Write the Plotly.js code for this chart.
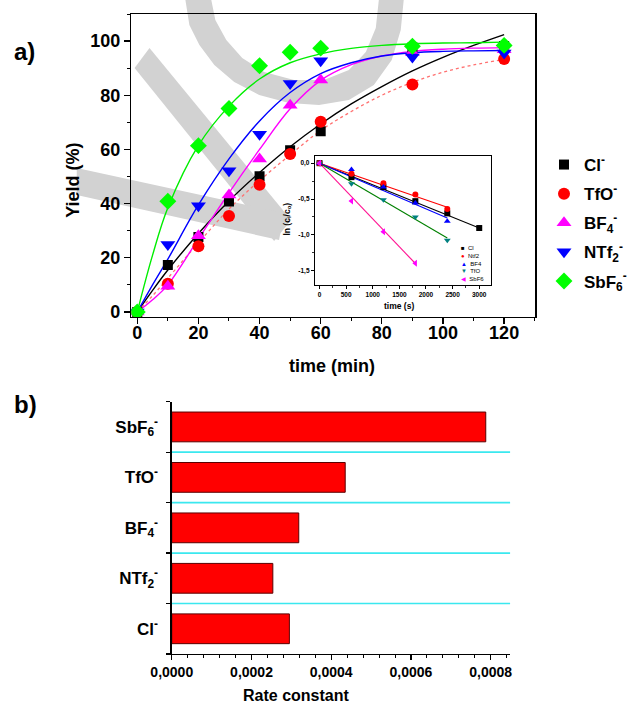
<!DOCTYPE html>
<html><head><meta charset="utf-8">
<script src="https://cdn.plot.ly/plotly-3.0.1.min.js"></script>
<style>html,body{margin:0;padding:0;background:#fff}</style>
</head><body><div id="chart" style="width:632px;height:704px"></div>
<script>
// ---- (a) main yield curves ----
const timeMin   = [0, 10, 20, 30, 40, 50, 60, 90, 120];
const yieldCl   = [0, 17.3, 27.7, 40.8, 50.1, 59.7, 66.7, 97.6, 98.2];
const yieldTfO  = [0, 10.4, 24.3, 35.4, 47.0, 58.3, 70.2, 84.0, 93.4];
const yieldBF4  = [0, 9.5, 28.1, 43.2, 56.5, 76.3, 85.6, 95.8, 96.8];
const yieldNTf2 = [0, 24.9, 39.2, 52.1, 65.6, 84.3, 92.7, 94.1, 95.6];
const yieldSbF6 = [0, 40.9, 61.4, 75.1, 90.9, 95.9, 97.4, 98.1, 98.4];

// fitted curves
const fitTime   = [0, 5, 10, 20, 30, 40, 50, 60, 70, 80, 90, 100, 110, 120];
const fitCl     = [0, 8, 15.5, 29, 41, 51.5, 61, 69.4, 76.8, 83.2, 89, 94, 98.4, 102.4];
const fitTfO    = [0, 6, 12.5, 25.5, 38, 48.5, 58, 67, 74, 80, 84.8, 88.5, 91.2, 93.2];
const fitBF4    = [0, 4.5, 10, 27, 44, 60, 75, 85.5, 91.3, 94.5, 96.2, 97, 97.4, 97.6];
const fitNTf2   = [0, 10, 19.5, 39.5, 56.5, 70.5, 81, 88, 92, 94.5, 95.7, 96.2, 96.4, 96.5];
const fitSbF6   = [0, 21, 38.5, 61.5, 76, 86, 92, 95.3, 97.3, 98.4, 99, 99.3, 99.4, 99.6];

const mainLabels = ['Cl<sup>-</sup>', 'TfO<sup>-</sup>', 'BF<sub>4</sub><sup>-</sup>', 'NTf<sub>2</sub><sup>-</sup>', 'SbF<sub>6</sub><sup>-</sup>'];

// ---- inset: ln(ci/c0) vs time (s) ----
const insetTime = [0, 600, 1200, 1800, 2400, 3000];
const lnCl   = [0, -0.195, -0.334, -0.53, -0.70, -0.905];
const lnNtf2 = [0, -0.149, -0.279, -0.436, -0.64];
const lnBF4  = [0, -0.09, -0.334, -0.557, -0.81];
const lnTfO  = [0, -0.288, -0.51, -0.75, -1.077];
const lnSbF6 = [0, -0.529, -0.956, -1.397];
const lineEndTime = {Cl: [0, 3000], Ntf2: [0, 2400], BF4: [0, 2400], TfO: [0, 2400], SbF6: [0, 1800]};
const lineEndLn   = {Cl: [0, -0.905], Ntf2: [0, -0.615], BF4: [0, -0.765], TfO: [0, -1.045], SbF6: [0, -1.40]};
const insetNames = ['Cl', 'Ntf2', 'BF4', 'TfO', 'SbF6'];
const insetYTicks = [0, -0.5, -1.0, -1.5];
const insetYTickText = ['0,0', '-0,5', '-1,0', '-1,5'];

// ---- (b) rate constants ----
const anions = ['Cl<sup>-</sup>', 'NTf<sub>2</sub><sup>-</sup>', 'BF<sub>4</sub><sup>-</sup>', 'TfO<sup>-</sup>', 'SbF<sub>6</sub><sup>-</sup>'];
const rateConstants = [0.000295, 0.0002535, 0.0003185, 0.000435, 0.0007875];

const FONT = "Arial, 'Liberation Sans', Helvetica, sans-serif";
const W = 632, H = 704;

const traces = [];
function fitLine(y, color, dash, width) {
  traces.push({x: fitTime, y: y, mode: 'lines', xaxis: 'x', yaxis: 'y', showlegend: false, hoverinfo: 'skip',
    line: {color: color, width: width || 1.4, shape: 'spline', smoothing: 1, dash: dash || 'solid'}});
}
fitLine(fitCl, '#000000');
fitLine(fitTfO, '#ff7070', 'dot', 1.3);
fitLine(fitBF4, '#ff00ff');
fitLine(fitNTf2, '#0000ff');
fitLine(fitSbF6, '#00ee00');

const mainSeries = [
  [yieldCl, '#000000', 'square', 10],
  [yieldTfO, '#ff0000', 'circle', 12],
  [yieldBF4, '#ff00ff', 'triangle-up', 13],
  [yieldNTf2, '#0000ff', 'triangle-down', 13],
  [yieldSbF6, '#00ff00', 'diamond', 13]
];
mainSeries.forEach((s, i) => {
  traces.push({x: timeMin, y: s[0], mode: 'markers', name: mainLabels[i], legendgroup: 'g' + i,
    xaxis: 'x', yaxis: 'y', marker: {color: s[1], symbol: s[2], size: s[3], line: {width: 0}}});
});

// inset
const insetColors = {Cl: ['#000000', '#000000', 'square'], Ntf2: ['#ff0000', '#ff0000', 'circle'],
  BF4: ['#0000ff', '#0000ff', 'triangle-up'], TfO: ['#008080', '#008000', 'triangle-down'],
  SbF6: ['#ff00ff', '#ff1493', 'triangle-left']};
const insetData = {Cl: lnCl, Ntf2: lnNtf2, BF4: lnBF4, TfO: lnTfO, SbF6: lnSbF6};
insetNames.forEach(n => {
  traces.push({x: lineEndTime[n], y: lineEndLn[n], mode: 'lines', xaxis: 'x2', yaxis: 'y2', showlegend: false,
    line: {color: insetColors[n][1], width: 1.1}});
});
insetNames.forEach(n => {
  const d = insetData[n];
  traces.push({x: insetTime.slice(0, d.length), y: d, mode: 'markers', xaxis: 'x2', yaxis: 'y2', showlegend: false,
    marker: {color: insetColors[n][0], symbol: insetColors[n][2], size: 6, line: {width: 0}}});
});

// bars
traces.push({type: 'bar', orientation: 'h', x: rateConstants, y: anions, xaxis: 'x3', yaxis: 'y3', showlegend: false,
  width: 0.59, marker: {color: '#ff0000', line: {color: '#5a0000', width: 1}}});

function px2x(v) { return v / W; }
function px2y(v) { return 1 - v / H; }
function poly(pts) { return 'M' + pts.map(p => px2x(p[0]).toFixed(4) + ',' + px2y(p[1]).toFixed(4)).join('L') + 'Z'; }

const wm = '#d2d2d2';
const shapes = [
  {type: 'path', xref: 'paper', yref: 'paper', layer: 'below', fillcolor: wm, line: {width: 0},
   path: poly([[186,0],[190,25],[200,45],[215,65],[235,82],[260,95],[290,103],[320,105],[350,100],[375,85],[393,60],[402,30],[405,0],
               [380,0],[377,28],[367,52],[350,70],[325,80],[295,80],[265,72],[243,58],[227,40],[216,20],[212,0]])},
  {type: 'path', xref: 'paper', yref: 'paper', layer: 'below', fillcolor: wm, line: {width: 0},
   path: poly([[135,68],[150,48],[292,220],[275,241]])},
  {type: 'path', xref: 'paper', yref: 'paper', layer: 'below', fillcolor: wm, line: {width: 0},
   path: poly([[77,168],[285,213],[280,240],[77,195]])}
];
for (let i = 0; i < anions.length - 1; i++) {
  shapes.push({type: 'line', xref: 'x3 domain', yref: 'y3', x0: 0, x1: 1, y0: i + 0.5, y1: i + 0.5,
    line: {color: '#3ae8ef', width: 1.6}, layer: 'below'});
}

const tf = (s) => ({family: FONT, size: s, color: '#000', weight: 'bold'});
const baseAx = {showline: true, linecolor: '#000', linewidth: 1.3, showgrid: false, zeroline: false,
  ticks: 'outside', tickcolor: '#000', tickwidth: 1.3};

function ann(text, x, y, font, extra) {
  return Object.assign({text: text, x: px2x(x), y: px2y(y), xref: 'paper', yref: 'paper', xanchor: 'center', yanchor: 'middle',
    showarrow: false, font: font}, extra || {});
}
const annotations = [
  ann('time (min)', 333, 366, tf(18)),
  ann('Yield (%)', 73, 180, tf(18), {textangle: -90}),
  ann('a)', 25, 51, tf(24)),
  ann('b)', 26, 404, tf(24)),
  ann('Rate constant', 297, 695, tf(16)),
  ann('time (s)', 400, 306.5, tf(8.5)),
  ann('ln (c<sub>i</sub>/c<sub>o</sub>)', 288, 219.5, tf(8.5), {textangle: -90})
];
// inset legend (as one block of text)
const insetSym = {Cl: '■', Ntf2: '●', BF4: '▲', TfO: '▼', SbF6: '◀'};
const insetLegText = insetNames.map(n => '<span style="color:' + insetColors[n][0] + '">' + insetSym[n] + '</span>  ' + n).join('<br>');
annotations.push(ann(insetLegText, 461, 263.6, {family: FONT, size: 6, color: '#000'}, {xanchor: 'left', align: 'left', borderpad: 0}));

const layout = {
  width: W, height: H, margin: {l: 0, r: 0, t: 0, b: 0},
  paper_bgcolor: '#fff', plot_bgcolor: '#fff', separators: ',.',
  font: {family: FONT, color: '#000'},
  xaxis: Object.assign({}, baseAx, {domain: [px2x(131.7), px2x(537)], range: [-1.96, 130.2], anchor: 'y', mirror: true,
    tick0: 0, dtick: 20, ticklen: 6, tickfont: tf(18), ticklabelstandoff: -7,
    minor: {ticks: 'outside', dtick: 10, ticklen: 3, tickwidth: 1, tickcolor: '#000'}}),
  yaxis: Object.assign({}, baseAx, {domain: [px2y(317), px2y(14)], range: [-1.85, 110], anchor: 'x', mirror: true,
    tick0: 0, dtick: 20, ticklen: 6, tickfont: tf(18), minor: {ticks: 'outside', dtick: 10, ticklen: 3, tickwidth: 1, tickcolor: '#000'}}),
  xaxis5: {overlaying: 'x', side: 'top', anchor: 'y', range: [-1.96, 130.2], showgrid: false, zeroline: false, showline: false,
    showticklabels: false, ticks: 'inside', tick0: 0, dtick: 20, ticklen: 5, tickwidth: 1.2, tickcolor: '#000'},
  yaxis5: {overlaying: 'y', side: 'right', anchor: 'x', range: [-1.85, 110], showgrid: false, zeroline: false, showline: false,
    showticklabels: false, ticks: 'inside', tick0: 0, dtick: 20, ticklen: 5, tickwidth: 1.2, tickcolor: '#000'},
  xaxis2: Object.assign({}, baseAx, {domain: [px2x(316), px2x(492.5)], range: [-85, 3220], anchor: 'y2', mirror: true, linewidth: 1.2,
    tick0: 0, dtick: 500, ticklen: 3, tickwidth: 1, tickfont: tf(6.5), minor: {ticks: 'outside', dtick: 250, ticklen: 2, tickwidth: 0.8, tickcolor: '#000'}}),
  yaxis2: Object.assign({}, baseAx, {domain: [px2y(285), px2y(156)], range: [-1.70, 0.10], anchor: 'x2', mirror: true, linewidth: 1.2,
    tickmode: 'array', tickvals: insetYTicks, ticktext: insetYTickText, ticklen: 3, tickwidth: 1, tickfont: tf(6.5),
    minor: {ticks: 'outside', dtick: 0.25, ticklen: 2, tickwidth: 0.8, tickcolor: '#000'}}),
  xaxis3: Object.assign({}, baseAx, {domain: [px2x(172.3), px2x(511.7)], range: [0, 0.0008485], anchor: 'y3',
    tick0: 0, dtick: 0.0002, tickformat: '.4f', ticklen: 5, tickfont: tf(14), ticklabelstandoff: 0,
    minor: {ticks: 'outside', dtick: 0.00004, ticklen: 3, tickwidth: 1, tickcolor: '#000'}}),
  yaxis3: Object.assign({}, baseAx, {domain: [px2y(654), px2y(401.7)], range: [-0.5, 4.5], anchor: 'x3', type: 'category',
    categoryorder: 'array', categoryarray: anions, tickson: 'boundaries', ticklen: 4, tickfont: tf(17), ticklabelstandoff: 9}),
  legend: {x: px2x(546), xanchor: 'left', y: px2y(147), yanchor: 'top', bgcolor: 'rgba(0,0,0,0)',
    font: {family: FONT, size: 17, color: '#000', weight: 'bold'}, tracegroupgap: 4, itemclick: false},
  shapes: shapes,
  annotations: annotations
};

Plotly.newPlot('chart', traces, layout, {staticPlot: true, displayModeBar: false});
</script></body></html>
